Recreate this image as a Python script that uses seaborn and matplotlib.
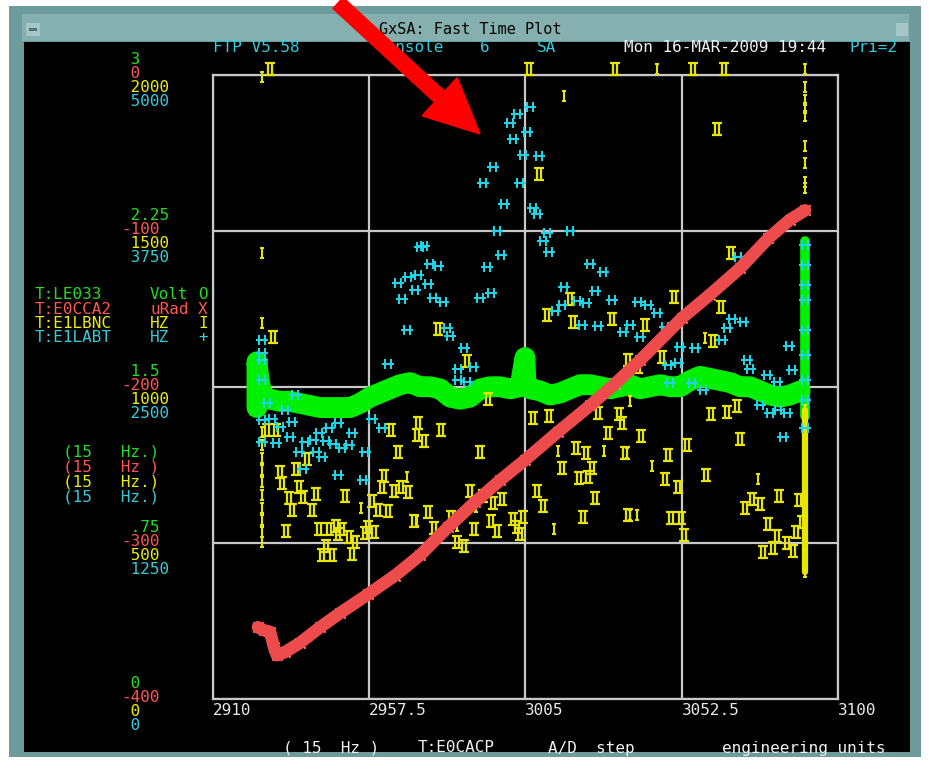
import matplotlib
matplotlib.use("Agg")
import matplotlib.pyplot as plt
import seaborn as sns
from matplotlib.path import Path
from matplotlib.patches import Rectangle, FancyArrow
from matplotlib.transforms import IdentityTransform

# ---------------- data ----------------
x_ticks = [2910, 2957.5, 3005, 3052.5, 3100]
x_tick_labels = ["2910", "2957.5", "3005", "3052.5", "3100"]

# axis labels per channel (top -> bottom)
green_labels = [" 3", " 2.25", " 1.5", " .75", " 0"]
red_labels = [" 0", "-100", "-200", "-300", "-400"]
yellow_labels = [" 2000", " 1500", " 1000", " 500", " 0"]
cyan_labels = [" 5000", " 3750", " 2500", " 1250", " 0"]

# T:E0CCA2 (uRad, X)
red_x = [2923.8, 2925.6, 2927.5, 2928.7, 2929.6, 2932.0, 2936.6, 2942.7, 2948.7, 2957.2,
         2965.4, 2973.0, 2981.5, 2989.7, 2997.3, 3004.9, 3014.9, 3024.7, 3032.3, 3039.9,
         3052.6, 3061.1, 3070.3, 3078.8, 3085.4, 3090.0]
red_val = [-354, -356, -357, -367, -372, -370, -364, -354, -345, -333,
           -321, -308, -290, -274, -260, -247, -229, -212, -198, -183,
           -156, -141, -124, -105, -93, -87]

# T:LE033 (Volt, O)
green_x = [2923.5, 2923.5, 2924.0, 2925.0, 2927.5, 2930.5, 2933.5, 2936.6, 2939.6, 2942.7,
           2945.7, 2948.7, 2951.8, 2954.8, 2957.8, 2960.9, 2963.9, 2967.0, 2970.0, 2973.0,
           2976.1, 2979.1, 2982.2, 2985.2, 2988.2, 2991.3, 2994.3, 2997.3, 3000.4, 3003.4,
           3004.9, 3005.2, 3006.5, 3009.5, 3012.5, 3015.6, 3018.6, 3021.7, 3024.7, 3027.7,
           3030.8, 3033.8, 3036.8, 3039.9, 3042.9, 3046.0, 3049.0, 3052.0, 3055.1, 3058.1,
           3061.1, 3064.2, 3067.2, 3070.3, 3073.3, 3076.3, 3079.4, 3082.4, 3085.4, 3088.5]
green_val = [1.40, 1.62, 1.55, 1.46, 1.44, 1.43, 1.43, 1.42, 1.41, 1.40,
             1.40, 1.40, 1.40, 1.42, 1.45, 1.47, 1.49, 1.51, 1.52, 1.50,
             1.50, 1.49, 1.45, 1.44, 1.45, 1.49, 1.50, 1.50, 1.49, 1.50,
             1.64, 1.52, 1.49, 1.48, 1.46, 1.47, 1.49, 1.51, 1.51, 1.50,
             1.49, 1.50, 1.51, 1.49, 1.50, 1.51, 1.50, 1.50, 1.53, 1.55,
             1.54, 1.53, 1.52, 1.50, 1.50, 1.48, 1.46, 1.45, 1.46, 1.48]
green_end_x = [3090.0] * 7
green_end_val = [1.36, 1.50, 1.65, 1.80, 1.95, 2.10, 2.20]

# T:E1LABT (HZ, +)
cyan_x = [2925.0, 2925.0, 2925.0, 2925.0, 2925.0, 2925.0,
          2966.4, 2969.4, 2972.4, 2971.5, 2967.6, 2969.1, 2963.3, 2973.0,
          3006.5, 3002.5, 3000.4, 3005.5, 3001.3, 3004.3, 3009.2, 2995.2, 2992.2, 3003.4,
          2998.6, 3007.4, 3008.6, 2996.4, 3011.6, 3010.4, 3018.6,
          2974.2, 3012.2, 2997.6, 2976.1, 2978.5, 3024.7, 3028.6, 2993.4, 2975.5, 3016.8,
          3026.2, 2977.0, 2980.0, 2991.3, 2994.7, 3016.2, 3014.0, 3020.7, 3023.5, 3031.4,
          2981.2, 2982.2, 3022.3, 3027.1, 3034.7, 2986.4, 2984.6, 2989.1, 2984.6, 2987.3,
          3039.3, 3042.3, 3045.0, 3036.8, 3039.9, 3047.5, 3052.0, 3056.6, 3067.8, 3071.2,
          3066.3, 3064.8, 3051.4, 3048.4, 3072.4, 3073.3, 3078.5, 3085.1, 3086.0, 3069.7,
          3076.3, 3079.4, 3081.8, 3084.5, 3083.3, 3081.5, 3055.7, 3059.0, 3049.0,
          2926.5, 2935.1, 2932.0, 2928.1, 2930.5, 2934.2, 2929.3, 2933.5, 2938.1, 2940.5,
          2942.3, 2945.4, 2948.1, 2952.4, 2944.5, 2946.6, 2949.3, 2951.5, 2936.3, 2941.4,
          2943.3, 2956.3, 2937.5, 2948.1, 2955.6, 2958.5, 2961.5,
          3090.0, 3090.0, 3090.0, 3090.0, 3090.0, 3090.0, 3090.0, 3090.0, 3090.0]
cyan_val = [2874, 2770, 2714, 2554, 2234, 2058,
            3330, 3379, 3395, 3274, 3202, 2954, 2682, 3619,
            4740, 4684, 4611, 4539, 4483, 4355, 4347, 4259, 4131, 4131,
            3963, 3931, 3883, 3747, 3731, 3667, 3747,
            3627, 3579, 3555, 3483, 3467, 3483, 3419, 3459, 3322, 3298,
            3266, 3210, 3178, 3210, 3250, 3154, 3106, 3186, 3170, 3194,
            2970, 2906, 2994, 2986, 2938, 2810, 2642, 2658, 2554, 2538,
            3178, 3154, 3090, 2994, 2898, 2978, 2818, 2810, 3042, 3018,
            2970, 2874, 2690, 2674, 2714, 2642, 2594, 2826, 2634, 3539,
            2354, 2290, 2314, 2290, 2098, 2538, 2530, 2474, 2530,
            2370, 2434, 2314, 2242, 2178, 2218, 2050, 2098, 2058, 2074,
            2130, 2170, 2210, 2130, 2066, 2042, 2010, 2034, 1977, 1977,
            1937, 1977, 1841, 1793, 1753, 2242, 2170,
            3635, 3475, 3315, 3194, 2954, 2754, 2554, 2394, 2170]

# T:E1LBNC (HZ, I) - double marks
yellow_x = [2927.5, 3006.2, 3032.3, 3065.4, 3056.0,
            3009.2, 2978.5, 2987.3, 3011.6, 3018.6, 3019.5, 3031.4, 3063.3, 3067.5, 3050.2,
            3064.5, 3041.4, 3062.1, 3046.6, 3036.2, 3039.3, 2928.4,
            2926.6, 2929.3, 2964.2, 2972.4, 2972.1, 2966.4, 2938.7, 2930.5, 2935.4, 2931.1,
            2936.3, 2937.5, 2933.2, 2941.4, 2950.3, 2934.2, 2940.2, 2958.5, 2960.3, 2963.3,
            2962.1, 2961.5, 2965.1, 2967.3, 2969.4, 2971.2, 2932.3, 2942.3, 2945.4, 2947.5,
            2949.3, 2948.1, 2951.5, 2953.3, 2957.2, 2956.3, 2959.1, 2944.5, 2943.3, 2946.3,
            2952.4,
            2974.3, 2979.4, 2991.3, 2993.7, 3007.4, 3012.2, 3027.1, 3033.5, 3034.4, 3030.2,
            3020.4, 3023.5, 3035.3, 3016.2, 3021.4, 3024.2, 3025.4, 3008.6, 3010.4, 3026.2,
            3022.6, 2988.2, 2992.2, 2995.2, 2997.9, 2975.5, 2977.3, 2982.5, 2989.4, 2994.7,
            2996.4, 3001.3, 3002.5, 3004.3, 3003.4, 2984.3, 2986.4, 3036.2,
            3061.5, 3066.3, 3069.4, 3040.2, 3054.1, 3070.3, 3048.4, 3059.9, 3047.5, 3051.4,
            3082.1, 3073.9, 3076.3, 3071.7, 3088.2, 3049.3, 3052.3, 3053.2, 3078.8, 3081.5,
            3087.3, 3084.6, 3080.3, 3077.3, 3086.4, 3089.1]
yellow_val = [2018, 2018, 2018, 2018, 2018,
              1681, 1185, 1082, 1230, 1281, 1207, 1217, 1826, 1428, 1287,
              1255, 1198, 1147, 1095, 1086, 1063, 1159,
              862, 862, 862, 884, 845, 791, 769, 727, 737, 692,
              679, 647, 644, 657, 650, 605, 605, 634, 605, 602,
              714, 679, 666, 679, 663, 570, 538, 544, 544, 554,
              544, 528, 519, 503, 551, 532, 535, 490, 461, 461,
              464,
              826, 862, 791, 961, 900, 906, 916, 913, 884, 852,
              804, 788, 788, 740, 708, 711, 740, 666, 618, 644,
              583, 666, 650, 628, 641, 599, 548, 583, 544, 570,
              538, 576, 551, 583, 528, 503, 490, 589,
              913, 919, 938, 842, 813, 833, 781, 717, 705, 679,
              650, 641, 625, 612, 637, 580, 580, 525, 560, 522,
              535, 500, 484, 471, 474, 567]

# T:E1LBNC - single marks
yellow_i_x = [2925.0, 2925.0, 2925.0, 2925.0, 2925.0, 2925.0, 2925.0, 2925.0, 2925.0, 2925.0,
              2925.0, 2925.0, 2925.0,
              3016.8, 3045.0, 3059.5, 2955.1, 2969.1, 3015.0, 3029.0, 3013.8, 2984.3, 2990.1,
              2972.1, 3036.8, 3035.9, 3043.5, 3075.6, 3036.8, 3039.0,
              3090.0, 3090.0, 3090.0, 3090.0, 3090.0, 3090.0, 3090.0, 3090.0, 3090.0]
yellow_i_val = [1992, 1428, 1204, 855, 813, 772, 733, 695, 653, 612,
                573, 535, 503,
                1931, 2018, 1156, 612, 711, 794, 794, 544, 554, 615,
                570, 954, 788, 746, 705, 589, 589,
                2018, 1960, 1918, 1893, 1867, 1771, 1717, 1656, 1637]
yellow_end_x = [3090.0] * 14
yellow_end_val = [926, 887, 849, 810, 772, 733, 695, 657, 618, 580, 541, 503, 461, 407]

legend_rows = [("T:LE033", "Volt", "O"), ("T:E0CCA2", "uRad", "X"),
               ("T:E1LBNC", "HZ", "I"), ("T:E1LABT", "HZ", "+")]
rate_rows = ["(15   Hz.)", "(15   Hz )", "(15   Hz.)", "(15   Hz.)"]

# ---------------- style ----------------
GREEN_T, RED_T, YELLOW_T, CYAN_T = "#22dd22", "#ff5555", "#eeee00", "#33ccdd"
chan_colors = [GREEN_T, RED_T, YELLOW_T, CYAN_T]
GRID = "#c8c8c8"

sns.set_style("dark", {"axes.facecolor": "black", "figure.facecolor": "white"})
plt.rcParams["font.family"] = ["DejaVu Sans Mono"]
FS = 11.5

M, L = Path.MOVETO, Path.LINETO
II_MARK = Path([(-0.8, 1), (0.8, 1), (-0.8, -1), (0.8, -1),
                (-0.35, 1), (-0.35, -1), (0.35, 1), (0.35, -1)], [M, L] * 4)
I_MARK = Path([(-0.45, 1), (0.45, 1), (-0.45, -1), (0.45, -1), (0, 1), (0, -1)], [M, L] * 3)
PLUS2 = Path([(-1, 0), (1, 0), (-0.4, -0.75), (-0.4, 0.75), (0.4, -0.75), (0.4, 0.75)], [M, L] * 3)

W, H = 930, 761
fig = plt.figure(figsize=(W / 100, H / 100), dpi=100)


def box(x0, y0, x1, y1, color):
    fig.add_artist(Rectangle((x0 / W, 1 - y1 / H), (x1 - x0) / W, (y1 - y0) / H,
                             transform=fig.transFigure, facecolor=color,
                             edgecolor="none", zorder=-1))


def txt(x, y, s, color, **kw):
    fig.text(x / W, 1 - y / H, s, color=color, fontsize=FS, va="center", **kw)


# window chrome
box(9, 6, 921, 757, "#6e9c9c")
box(22, 14, 909, 41, "#86afaf")
box(24, 42, 910, 752, "black")
box(26, 23, 40, 36, "#a4c6c6")
box(29, 28, 37, 31, "#4f7777")
box(896, 23, 908, 36, "#a4c6c6")
fig.text(470 / W, 1 - 29 / H, "GxSA: Fast Time Plot", color="black", fontsize=11,
         ha="center", va="center")

# plot area (cyan scale on the base axes)
ax = fig.add_axes([212.5 / W, 1 - 699 / H, 625.5 / W, 624.5 / H])
ax.set_facecolor("black")
ax_g = ax.twinx()
ax_y = ax.twinx()
ax_c = ax.twinx()
ax_r = ax.twinx()

# green band
sns.lineplot(x=green_x, y=green_val, sort=False, estimator=None, color="#00f000",
             linewidth=15, solid_capstyle="round", ax=ax_g)
sns.scatterplot(x=green_x, y=green_val, marker="s", s=90, color="#22ff22",
                edgecolor="#00a000", linewidth=1.2, ax=ax_g)
sns.lineplot(x=green_end_x, y=green_end_val, sort=False, estimator=None, color="#00f000",
             linewidth=7, ax=ax_g)

# yellow marks
sns.lineplot(x=yellow_end_x, y=yellow_end_val, sort=False, estimator=None, color="#e6e600",
             linewidth=4.5, ax=ax_y)
sns.scatterplot(x=yellow_x, y=yellow_val, marker=II_MARK, s=70, color="#e6e600",
                edgecolor="#e6e600", linewidth=1.6, clip_on=False, ax=ax_y)
sns.scatterplot(x=yellow_i_x + yellow_end_x, y=yellow_i_val + yellow_end_val, marker=I_MARK,
                s=50, color="#e6e600", edgecolor="#e6e600", linewidth=1.5,
                clip_on=False, ax=ax_y)

# cyan marks
sns.scatterplot(x=cyan_x, y=cyan_val, marker=PLUS2, s=85, color="#22d3e6",
                edgecolor="#22d3e6", linewidth=1.5, ax=ax_c)

# red band
sns.lineplot(x=red_x, y=red_val, sort=False, estimator=None, color="#ee4c4c",
             linewidth=9, ax=ax_r)
sns.scatterplot(x=red_x, y=red_val, marker="x", s=55, color="#ff8585", linewidth=1.4, ax=ax_r)

ax.set_xlim(2910, 3100)
ax.set_ylim(0, 5000)
ax_g.set_ylim(0, 3)
ax_y.set_ylim(0, 2000)
ax_r.set_ylim(-400, 0)
ax_c.set_ylim(0, 5000)

for t in (ax_g, ax_y, ax_c, ax_r):
    t.set_yticks([])
    t.grid(False)
    t.set_xlabel("")
    t.set_ylabel("")
    for sp in t.spines.values():
        sp.set_visible(False)

ax.set_xticks(x_ticks)
ax.set_xticklabels(x_tick_labels, ha="left", color="#e8e8e8", fontsize=FS)
ax.set_yticks([0, 1250, 2500, 3750, 5000])
ax.tick_params(axis="x", length=0, pad=3)
ax.tick_params(axis="y", left=False, labelleft=False)
ax.grid(True, color=GRID, linewidth=1.6)
for sp in ax.spines.values():
    sp.set_visible(True)
    sp.set_color(GRID)
    sp.set_linewidth(1.6)

# multi-channel scale labels on the left
for i in range(5):
    gy = 74.5 + i * 624.5 / 4
    for k, (labs, col) in enumerate(zip([green_labels, red_labels, yellow_labels, cyan_labels],
                                        chan_colors)):
        txt(121, gy - 15 + 14 * k, labs[i], col)

# channel legend
for k, (name, unit, mark) in enumerate(legend_rows):
    y = 295 + 14 * k
    txt(35, y, name, chan_colors[k])
    txt(150, y, unit, chan_colors[k])
    txt(198, y, mark, chan_colors[k])
for k, s in enumerate(rate_rows):
    txt(63, 452 + 15 * k, s, chan_colors[k])

# header line
txt(213, 48, "FTP V5.58", CYAN_T)
txt(377, 48, "Console", CYAN_T)
txt(480, 48, "6", CYAN_T)
txt(537, 48, "SA", CYAN_T)
txt(624, 48, "Mon 16-MAR-2009 19:44", "#f0f0f0")
txt(849, 48, "Pri=2", CYAN_T)

# footer line
txt(283, 748, "( 15  Hz )", "#f0f0f0")
txt(418, 748, "T:E0CACP", "#f0f0f0")
txt(548, 748, "A/D  step", "#f0f0f0")
txt(722, 748, "engineering units", "#f0f0f0")

# red annotation arrow
fig.add_artist(FancyArrow(338, H - 3, 142, -131, width=15, head_width=52, head_length=55,
                          length_includes_head=True, color="#ff0000",
                          transform=IdentityTransform(), zorder=10))

fig.savefig("out.png", dpi=100, facecolor="white")
